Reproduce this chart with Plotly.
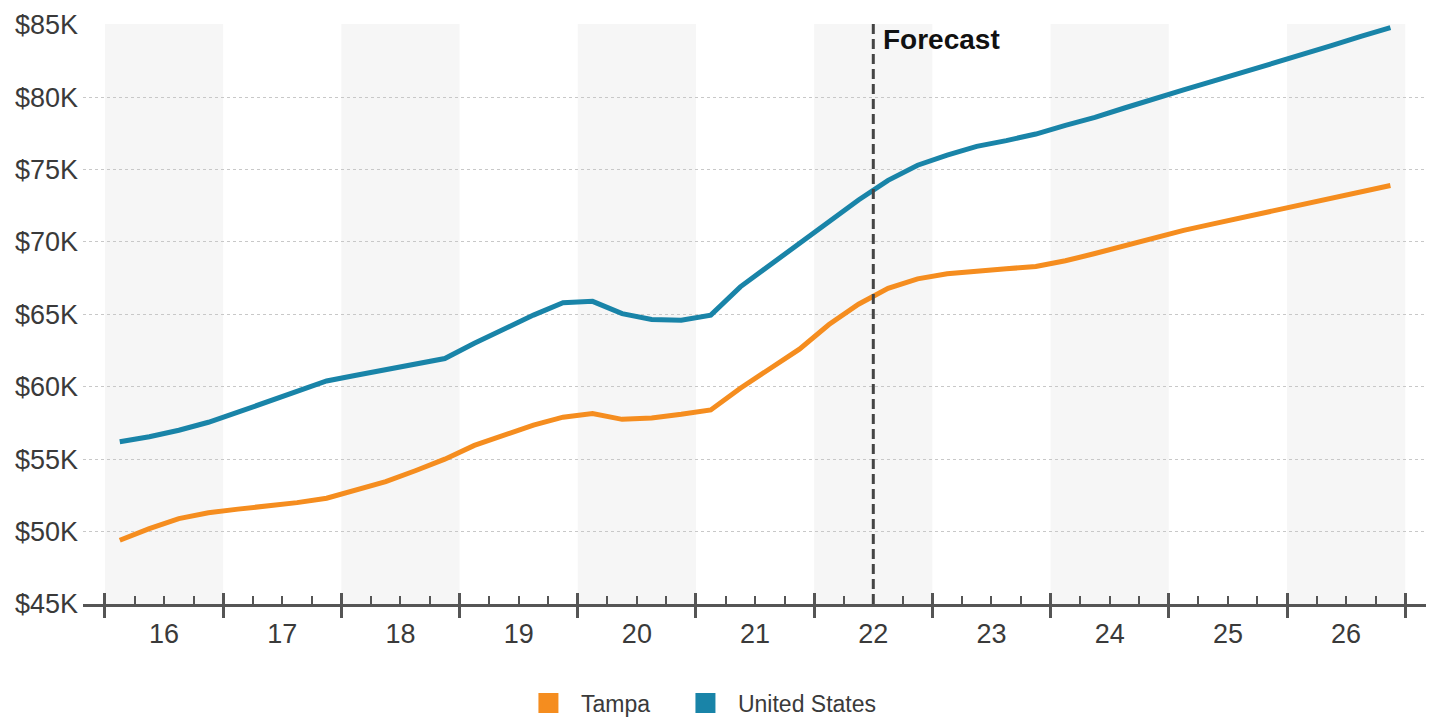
import plotly.graph_objects as go

# ---------------- data ----------------
years = list(range(16, 27))
year_labels = [str(y) for y in years]
quarters = [1, 2, 3, 4]

tampa_values = [
    49.4, 50.2, 50.9, 51.3,
    51.55, 51.75, 52.0, 52.3,
    52.85, 53.45, 54.2, 55.0,
    55.95, 56.65, 57.35, 57.9,
    58.15, 57.75, 57.85, 58.1,
    58.4, 59.9, 61.2, 62.6,
    64.3, 65.7, 66.8, 67.45,
    67.8, 68.0, 68.15, 68.3,
    68.7, 69.2, 69.75, 70.3,
    70.8, 71.25, 71.7, 72.15,
    72.6, 73.05, 73.5, 73.9,
]
us_values = [
    56.2, 56.55, 57.0, 57.55,
    58.25, 58.95, 59.65, 60.4,
    60.8, 61.2, 61.55, 61.95,
    63.0, 64.0, 64.95, 65.8,
    65.9, 65.05, 64.65, 64.6,
    64.95, 66.9, 68.4, 70.0,
    71.5, 72.9, 74.25, 75.3,
    76.0, 76.6, 77.0, 77.45,
    78.05, 78.6, 79.25, 79.9,
    80.5, 81.1, 81.7, 82.3,
    82.9, 83.55, 84.2, 84.8,
]
series_names = ["Tampa", "United States"]
y_tick_vals = [45, 50, 55, 60, 65, 70, 75, 80, 85]
y_tick_labels = ["$45K", "$50K", "$55K", "$60K", "$65K", "$70K", "$75K", "$80K", "$85K"]
forecast_year = 22
forecast_label = "Forecast"

# ---------------- styling ----------------
ORANGE = "#F58D1F"
TEAL = "#1984A8"
FONT = "Arial, Liberation Sans, sans-serif"
TXT = "#3a3a3a"
AXIS = "#555555"

# positions derived from data (quarter centres, year boundaries)
x_q = [y - 0.5 + (q - 0.5) / 4 for y in years for q in quarters]
year_bounds = [y - 0.5 for y in years] + [years[-1] + 0.5]
quarter_bounds = [y - 0.5 + q / 4 for y in years for q in (1, 2, 3)]
x_range = [years[0] - 0.686, years[-1] + 0.676]

fig = go.Figure()

fig.add_trace(go.Scatter(x=x_q, y=tampa_values, mode="lines",
                         line=dict(color=ORANGE, width=5), showlegend=False,
                         name=series_names[0]))
fig.add_trace(go.Scatter(x=x_q, y=us_values, mode="lines",
                         line=dict(color=TEAL, width=5), showlegend=False,
                         name=series_names[1]))
# legend squares (one legend box per series so their spacing can match)
for nm, col, lg in zip(series_names, [ORANGE, TEAL], ["legend", "legend2"]):
    fig.add_trace(go.Scatter(x=[None], y=[None], mode="markers", name=nm, legend=lg,
                             marker=dict(symbol="square", size=16, color=col,
                                         line=dict(color=col, width=4))))
# helper traces for overlay axes
fig.add_trace(go.Scatter(x=[None], y=[None], xaxis="x2", showlegend=False, hoverinfo="skip"))
fig.add_trace(go.Scatter(x=[None], y=[None], xaxis="x3", showlegend=False, hoverinfo="skip"))

# alternating year bands
for y in years:
    if y % 2 == 0:
        fig.add_shape(type="rect", xref="x", yref="paper", x0=y - 0.5, x1=y + 0.5,
                      y0=0, y1=1, fillcolor="#f6f6f6", line=dict(width=0), layer="below")

# forecast line
fig.add_shape(type="line", xref="x", yref="paper", x0=forecast_year, x1=forecast_year,
              y0=0, y1=1, line=dict(color="#444444", width=3, dash="10px,5px"))
fig.add_annotation(x=forecast_year, y=1, xref="x", yref="paper", xanchor="left",
                   yanchor="top", xshift=8, yshift=2, showarrow=False,
                   text="<b>%s</b>" % forecast_label,
                   font=dict(family=FONT, size=28, color="#111111"))

legend_common = dict(orientation="h", xref="container", yref="container",
                     y=0.0225, xanchor="left", yanchor="middle",
                     font=dict(family=FONT, size=23, color=TXT),
                     itemsizing="trace", itemwidth=55, bgcolor="rgba(0,0,0,0)")

# The page body adds an 8px offset, so the figure is sized 1430x711.
fig.update_layout(
    width=1430, height=711, autosize=False,
    margin=dict(l=75, r=12, t=16, b=115),
    paper_bgcolor="white", plot_bgcolor="white",
    font=dict(family=FONT, color=TXT),
    showlegend=True,
    legend=dict(x=0.3552, **legend_common),
    legend2=dict(x=0.465, **legend_common),
    xaxis=dict(range=x_range, tickmode="array", tickvals=year_bounds,
               showticklabels=False, ticks="outside", ticklen=11, tickwidth=3,
               tickcolor=AXIS, showline=True, linecolor=AXIS, linewidth=2.5,
               showgrid=False, zeroline=False, automargin=False,
               minor=dict(tickmode="array", tickvals=quarter_bounds, ticks="inside",
                          ticklen=8, tickwidth=1.5, tickcolor=AXIS, showgrid=False)),
    xaxis2=dict(range=x_range, overlaying="x", anchor="y", side="bottom",
                tickmode="array", tickvals=year_bounds, showticklabels=False,
                ticks="inside", ticklen=11, tickwidth=3, tickcolor=AXIS,
                showline=False, showgrid=False, zeroline=False, automargin=False),
    xaxis3=dict(range=x_range, overlaying="x", anchor="y", side="bottom",
                tickmode="array", tickvals=years, ticktext=year_labels,
                ticks="", showline=False, showgrid=False, zeroline=False,
                ticklabelstandoff=11, automargin=False,
                tickfont=dict(family=FONT, size=27, color=TXT)),
    yaxis=dict(range=[45, 85.05], tickmode="array", tickvals=y_tick_vals,
               ticktext=y_tick_labels, ticks="", ticklabelstandoff=4,
               tickfont=dict(family=FONT, size=27, color=TXT), automargin=False,
               showgrid=True, gridcolor="#c8c8c8", griddash="dot", gridwidth=1.2,
               zeroline=False, showline=False),
)

fig.write_html("out.html")
